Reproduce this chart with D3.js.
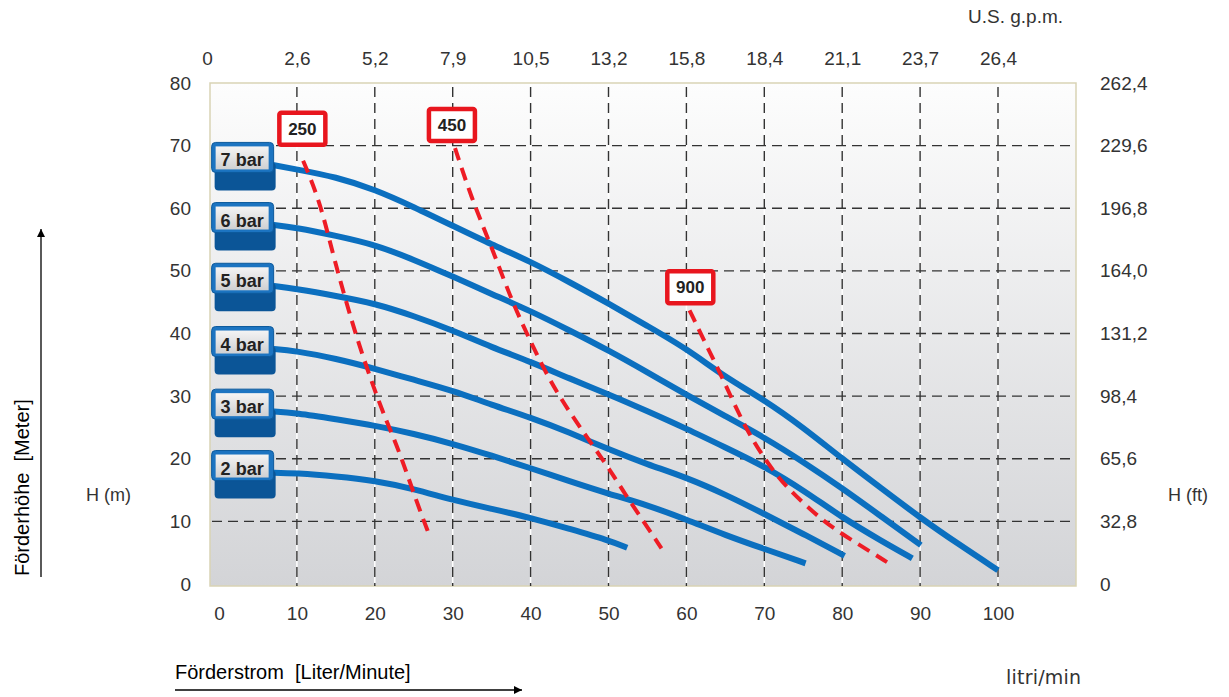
<!DOCTYPE html>
<html>
<head>
<meta charset="utf-8">
<script src="https://cdn.jsdelivr.net/npm/d3@7"></script>
<style>
  body { margin: 0; background: #fff; }
  text { font-family: "Liberation Sans", Arial, sans-serif; }
</style>
</head>
<body>
<svg id="chart" width="1229" height="697"></svg>
<script>
// axis ticks
var lpmTicks = [0, 10, 20, 30, 40, 50, 60, 70, 80, 90, 100];
var gpmLabels = ['0', '2,6', '5,2', '7,9', '10,5', '13,2', '15,8', '18,4', '21,1', '23,7', '26,4'];
var meterTicks = [0, 10, 20, 30, 40, 50, 60, 70, 80];
var feetLabels = ['0', '32,8', '65,6', '98,4', '131,2', '164,0', '196,8', '229,6', '262,4'];

// pump curves [l/min, m]
var barNames = ['7 bar', '6 bar', '5 bar', '4 bar', '3 bar', '2 bar'];
var bar7 = [[6.5,67],[10,66.2],[15,65],[20,63],[25,60.2],[30,57.2],[35,54.2],[40,51.5],[45,48.2],[50,44.8],[55,41.2],[60,37.6],[65,33],[70,29.4],[75,25],[80,20],[85,15.3],[90,10.6],[95,6.3],[100,2.2]];
var bar6 = [[6.5,57.4],[10,56.9],[15,55.6],[20,54.2],[25,51.8],[30,49.1],[35,46.3],[40,43.6],[45,40.5],[50,37.3],[55,33.8],[60,30.2],[65,26.8],[70,23.4],[75,19.5],[80,15.3],[85,10.8],[90.1,6.2]];
var bar5 = [[6.5,47.7],[10,47.1],[15,46],[20,44.8],[25,42.8],[30,40.5],[35,37.8],[40,35.5],[45,32.8],[50,30.3],[55,27.6],[60,24.8],[65,21.8],[70,18.8],[75,15],[80,10.6],[85,6.9],[89,4.1]];
var bar4 = [[6.5,37.6],[10,37.2],[15,36],[20,34.4],[25,32.6],[30,30.9],[35,28.6],[40,26.6],[45,24.2],[50,21.5],[55,19.1],[60,17],[65,14.3],[70,11.2],[75,8],[80.3,4.5]];
var bar3 = [[6.5,27.6],[10,27.3],[15,26.3],[20,25.3],[25,24],[30,22.4],[35,20.5],[40,18.5],[45,16.4],[50,14.4],[55,12.6],[60,10.3],[65,7.8],[70,5.6],[75.3,3.3]];
var bar2 = [[6.5,17.8],[10,17.7],[15,17.2],[20,16.5],[25,15.2],[30,13.4],[35,12],[40,10.6],[45,8.8],[50,7],[52.4,5.8]];
var barCurves = [bar7, bar6, bar5, bar4, bar3, bar2];

// red dashed lines
var redNames = ['250', '450', '900'];
var red250 = [[10.8,67.6],[12.9,61.3],[14.6,52.8],[16,46.5],[17.5,40],[19.8,31.5],[21.5,26],[23.2,21],[25.4,13],[27,7.8]];
var red450 = [[30.3,69.6],[32.5,61.3],[35,53.8],[37.4,45.8],[39.5,40],[42.4,32.5],[45.7,26.1],[50,18.6],[52.1,14.4],[54.5,10],[56.8,5.7]];
var red900 = [[60.4,43.7],[62.5,38.3],[64.6,33],[67.7,24.5],[70.3,19.5],[72.8,15.4],[77.9,9.6],[81.9,6.5],[86,3.3]];
var redCurves = [red250, red450, red900];
var redLabelAt = [[10.7,72.7],[29.9,73.3],[60.5,47.4]];

var svg = d3.select('#chart');

/* scales */
var x = d3.scaleLinear().domain([0, 100]).range([219, 998]);
var y = d3.scaleLinear().domain([0, 80]).range([584, 83]);
var plotL = 210, plotR = 1076, plotT = 83, plotB = 586;

var defs = svg.append('defs');
var bg = defs.append('linearGradient').attr('id', 'bg')
  .attr('x1', 0).attr('y1', 0).attr('x2', 0).attr('y2', 1);
bg.append('stop').attr('offset', '0%').attr('stop-color', '#fdfdfd');
bg.append('stop').attr('offset', '100%').attr('stop-color', '#d3d4d7');

var lab = defs.append('linearGradient').attr('id', 'lab')
  .attr('x1', 0).attr('y1', 0).attr('x2', 0).attr('y2', 1);
lab.append('stop').attr('offset', '0%').attr('stop-color', '#f4f4f4');
lab.append('stop').attr('offset', '100%').attr('stop-color', '#cfd0d2');

defs.append('marker').attr('id', 'arrow')
  .attr('viewBox', '0 0 10 10').attr('refX', 10).attr('refY', 5)
  .attr('markerWidth', 14).attr('markerHeight', 8).attr('markerUnits', 'userSpaceOnUse')
  .attr('orient', 'auto')
  .append('path').attr('d', 'M0,0L10,5L0,10Z').attr('fill', '#000');

/* plot background */
svg.append('rect')
  .attr('x', plotL).attr('y', plotT)
  .attr('width', plotR - plotL).attr('height', plotB - plotT)
  .attr('fill', 'url(#bg)')
  .attr('stroke', '#d9d3b5').attr('stroke-width', 1.5);

/* grid */
var gridX = lpmTicks.slice(1);
var gridY = meterTicks.slice(1, -1);

svg.append('g').selectAll('line').data(gridX).enter().append('line')
  .attr('x1', d => x(d)).attr('x2', d => x(d))
  .attr('y1', plotT + 1).attr('y2', plotB - 1)
  .attr('stroke', '#fff').attr('stroke-width', 1.5);

svg.append('g').selectAll('line').data(gridX).enter().append('line')
  .attr('x1', d => x(d)).attr('x2', d => x(d))
  .attr('y1', plotT + 4).attr('y2', plotB)
  .attr('stroke', '#333').attr('stroke-width', 1.4)
  .attr('stroke-dasharray', '10,6');

svg.append('g').selectAll('line').data(gridY).enter().append('line')
  .attr('x1', plotL + 2).attr('x2', plotR)
  .attr('y1', d => y(d)).attr('y2', d => y(d))
  .attr('stroke', '#333').attr('stroke-width', 1.4)
  .attr('stroke-dasharray', '10,6');

/* axes */
function styleAxis(g) {
  g.select('.domain').remove();
  g.selectAll('.tick line').remove();
  g.selectAll('text').attr('font-size', '19px').attr('fill', '#333')
    .style('font-family', '"Liberation Sans", Arial, sans-serif');
}

svg.append('g')
  .attr('transform', 'translate(0,' + plotB + ')')
  .call(d3.axisBottom(x).tickValues(lpmTicks).tickSize(0).tickPadding(21))
  .call(styleAxis);

svg.append('g')
  .attr('transform', 'translate(0,' + plotT + ')')
  .call(d3.axisTop(x).tickValues(lpmTicks).tickSize(0).tickPadding(18)
    .tickFormat((d, i) => gpmLabels[i]))
  .call(styleAxis)
  .selectAll('.tick text').attr('dx', (d, i) => i === 0 ? -12 : 0);

svg.append('g')
  .attr('transform', 'translate(200,0)')
  .call(d3.axisLeft(y).tickValues(meterTicks).tickSize(0).tickPadding(9))
  .call(styleAxis);

svg.append('g')
  .attr('transform', 'translate(' + plotR + ',0)')
  .call(d3.axisRight(y).tickValues(meterTicks).tickSize(0).tickPadding(24)
    .tickFormat((d, i) => feetLabels[i]))
  .call(styleAxis);

/* curves */
var line = d3.line()
  .x(d => x(d[0])).y(d => y(d[1]))
  .curve(d3.curveBasis);

svg.append('g').selectAll('path').data(barCurves).enter().append('path')
  .attr('d', line)
  .attr('fill', 'none')
  .attr('stroke', '#0b6fbf')
  .attr('stroke-width', 6);

svg.append('g').selectAll('path').data(redCurves).enter().append('path')
  .attr('d', line)
  .attr('fill', 'none')
  .attr('stroke', '#ee1c25')
  .attr('stroke-width', 4)
  .attr('stroke-dasharray', '13,8');

/* bar labels (3d boxes) */
var boxes = svg.append('g').selectAll('g').data(barCurves).enter().append('g')
  .attr('transform', d => 'translate(' + x(d[0][0]) + ',' + y(d[0][1]) + ')');

boxes.append('rect')
  .attr('x', -55).attr('y', -2).attr('width', 61).attr('height', 28)
  .attr('rx', 4).attr('fill', '#0b5597');
boxes.append('rect')
  .attr('x', -58).attr('y', -22).attr('width', 62).attr('height', 30)
  .attr('rx', 4).attr('fill', '#1c74c1').attr('stroke', '#0d5a9c').attr('stroke-width', 1);
boxes.append('rect')
  .attr('x', -54).attr('y', -18).attr('width', 53).attr('height', 23)
  .attr('fill', 'url(#lab)');
boxes.append('text')
  .attr('x', -27.5).attr('y', 2)
  .attr('text-anchor', 'middle')
  .attr('font-size', '18px').attr('font-weight', 'bold').attr('fill', '#222')
  .text((d, i) => barNames[i]);

/* red labels */
var redBoxes = svg.append('g').selectAll('g').data(redLabelAt).enter().append('g')
  .attr('transform', d => 'translate(' + x(d[0]) + ',' + y(d[1]) + ')');

redBoxes.append('rect')
  .attr('x', -23).attr('y', -16).attr('width', 46).attr('height', 32)
  .attr('rx', 2).attr('fill', '#fff')
  .attr('stroke', '#e8161e').attr('stroke-width', 4.5);
redBoxes.append('text')
  .attr('text-anchor', 'middle').attr('dy', '0.36em')
  .attr('font-size', '17px').attr('font-weight', 'bold').attr('fill', '#222')
  .text((d, i) => redNames[i]);

/* titles */
svg.append('text').attr('x', 968).attr('y', 23)
  .attr('font-size', '19px').attr('fill', '#333').text('U.S. g.p.m.');
svg.append('text').attr('x', 86).attr('y', 501)
  .attr('font-size', '18px').attr('fill', '#333').text('H (m)');
svg.append('text').attr('x', 1168).attr('y', 501)
  .attr('font-size', '18px').attr('fill', '#333').text('H (ft)');
svg.append('text').attr('x', 1006).attr('y', 684)
  .attr('font-size', '19px').attr('fill', '#333')
  .style('font-family', '"DejaVu Sans", sans-serif').attr('textLength', 75)
  .text('litri/min');

svg.append('text').attr('x', 175).attr('y', 679)
  .attr('font-size', '20px').attr('fill', '#000')
  .style('white-space', 'pre')
  .text('Förderstrom  [Liter/Minute]');
svg.append('line')
  .attr('x1', 175).attr('y1', 690).attr('x2', 522).attr('y2', 690)
  .attr('stroke', '#000').attr('stroke-width', 1.3)
  .attr('marker-end', 'url(#arrow)');

svg.append('text')
  .attr('transform', 'translate(29,576) rotate(-90)')
  .attr('font-size', '20px').attr('fill', '#000')
  .style('white-space', 'pre')
  .text('Förderhöhe  [Meter]');
svg.append('line')
  .attr('x1', 41).attr('y1', 577).attr('x2', 41).attr('y2', 229)
  .attr('stroke', '#000').attr('stroke-width', 1.3)
  .attr('marker-end', 'url(#arrow)');
</script>
</body>
</html>
